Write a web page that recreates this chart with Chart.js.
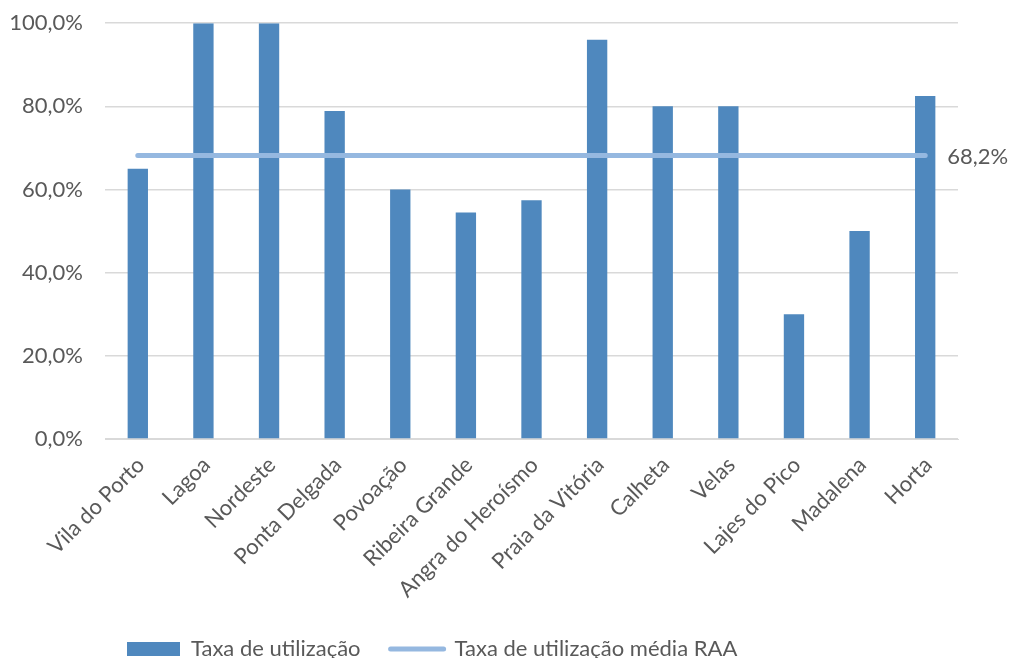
<!DOCTYPE html>
<html>
<head>
<meta charset="utf-8">
<script src="https://cdn.jsdelivr.net/npm/chart.js@4"></script>
<style>
  html, body { margin: 0; padding: 0; background: #fff; }
  #wrap { width: 1010px; height: 658px; }
</style>
</head>
<body>
<div id="wrap"><canvas id="myChart" width="1010" height="658"></canvas></div>
<script>
const labels = ['Vila do Porto', 'Lagoa', 'Nordeste', 'Ponta Delgada', 'Povoação', 'Ribeira Grande',
  'Angra do Heroísmo', 'Praia da Vitória', 'Calheta', 'Velas', 'Lajes do Pico', 'Madalena', 'Horta'];
const taxaUtilizacao = [65, 100, 100, 78.9, 60, 54.5, 57.4, 96, 80, 80, 30, 50, 82.5];
const mediaRAA = 68.2;
const yTicks = [0, 20, 40, 60, 80, 100];

const textColor = '#595959';
const fontFamily = 'Lato, "Open Sans", sans-serif';
const fontSize = 22;
const legendPad = 30;

const fmt = v => v.toFixed(1).replace('.', ',') + '%';

// label "68,2%" to the right of the average line
const endLabel = {
  id: 'endLabel',
  afterDatasetsDraw(chart) {
    const meta = chart.getDatasetMeta(1);
    const last = meta.data[meta.data.length - 1];
    const ctx = chart.ctx;
    ctx.save();
    ctx.font = fontSize + 'px ' + fontFamily;
    ctx.fillStyle = textColor;
    ctx.textAlign = 'left';
    ctx.textBaseline = 'middle';
    ctx.fillText(fmt(mediaRAA), last.x + 22, last.y + 1);
    ctx.restore();
  }
};

// legend at the lower left; let the rotated x labels run down to the canvas edge
const legendPos = {
  id: 'legendPos',
  afterLayout(chart) {
    const lg = chart.legend;
    if (lg) {
      lg.left = 127 - legendPad;
      lg.top = 648 - legendPad - 10;
    }
    chart.scales.x.bottom = chart.height;
  }
};

const ctx = document.getElementById('myChart').getContext('2d');
new Chart(ctx, {
  type: 'bar',
  data: {
    labels: labels,
    datasets: [
      {
        label: 'Taxa de utilização',
        data: taxaUtilizacao,
        backgroundColor: '#4F88BE',
        borderWidth: 0,
        categoryPercentage: 1,
        barPercentage: 0.31,
        order: 2
      },
      {
        type: 'line',
        label: 'Taxa de utilização média RAA',
        data: labels.map(() => mediaRAA),
        borderColor: '#95B8E0',
        backgroundColor: '#95B8E0',
        borderWidth: 5,
        borderCapStyle: 'round',
        pointRadius: 0,
        order: 1
      }
    ]
  },
  options: {
    responsive: false,
    animation: false,
    layout: { padding: { top: 4, right: 52, left: 0, bottom: 0 } },
    plugins: {
      tooltip: { enabled: false },
      legend: {
        position: 'bottom',
        align: 'start',
        labels: {
          color: textColor,
          font: { family: fontFamily, size: fontSize },
          usePointStyle: true,
          pointStyleWidth: 53,
          boxHeight: 14,
          padding: legendPad,
          generateLabels(chart) {
            return chart.data.datasets.map((ds, i) => ({
              text: ds.label,
              fillStyle: i === 0 ? ds.backgroundColor : ds.borderColor,
              strokeStyle: i === 0 ? ds.backgroundColor : ds.borderColor,
              lineWidth: i === 0 ? 0 : 5,
              lineCap: 'round',
              pointStyle: i === 0 ? 'rect' : 'line',
              fontColor: textColor,
              datasetIndex: i
            }));
          }
        }
      }
    },
    scales: {
      x: {
        grid: { display: false },
        border: { color: '#d9d9d9' },
        ticks: {
          color: textColor,
          font: { family: fontFamily, size: fontSize },
          minRotation: 45,
          maxRotation: 45,
          autoSkip: false,
          padding: 5,
          labelOffset: 3
        },
        afterFit(scale) { scale.height = 157; }
      },
      y: {
        min: 0,
        max: 100,
        afterBuildTicks(scale) { scale.ticks = yTicks.map(v => ({ value: v })); },
        grid: { color: '#d9d9d9', lineWidth: 1.5, drawTicks: true, tickLength: 12, tickColor: 'rgba(0,0,0,0)' },
        border: { display: false },
        ticks: {
          color: textColor,
          font: { family: fontFamily, size: fontSize },
          padding: 10,
          callback: v => fmt(v)
        },
        afterFit(scale) { scale.width = 105; }
      }
    }
  },
  plugins: [endLabel, legendPos]
});
</script>
</body>
</html>
